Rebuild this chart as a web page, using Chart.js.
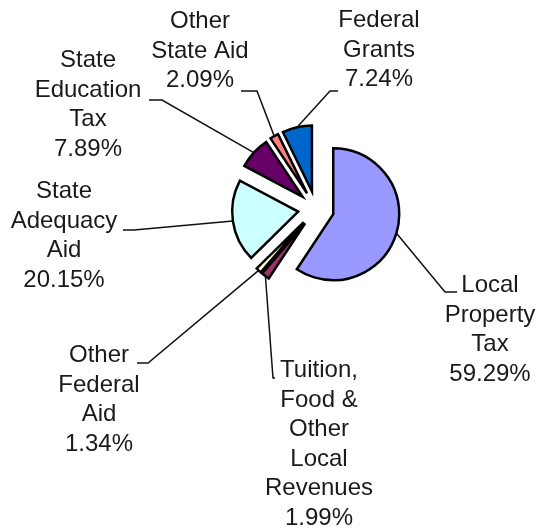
<!DOCTYPE html>
<html>
<head>
<meta charset="utf-8">
<script src="https://cdn.jsdelivr.net/npm/chart.js@4.4.1/dist/chart.umd.min.js"></script>
<style>
  html, body { margin: 0; padding: 0; background: #fff; }
  canvas { display: block; }
</style>
</head>
<body>
<canvas id="revenue-pie" width="540" height="532"></canvas>
<script>
// slice data, clockwise from 12 o'clock
const categories = [
    'Local Property Tax',
    'Tuition, Food & Other Local Revenues',
    'Other Federal Aid',
    'State Adequacy Aid',
    'State Education Tax',
    'Other State Aid',
    'Federal Grants'
];
const categoryLines = [
    ['Local', 'Property', 'Tax'],
    ['Tuition,', 'Food &', 'Other', 'Local', 'Revenues'],
    ['Other', 'Federal', 'Aid'],
    ['State', 'Adequacy', 'Aid'],
    ['State', 'Education', 'Tax'],
    ['Other', 'State Aid'],
    ['Federal', 'Grants']
];
const percentages = [59.29, 1.99, 1.34, 20.15, 7.89, 2.09, 7.24];
const sliceColors = ['#9999FF', '#993366', '#FFFFCC', '#CCFFFF', '#660066', '#FF8080', '#0066CC'];

// label placement (centre x, first baseline) and leader line elbows
const labelPos = [
    { x: 490, y: 292 },
    { x: 319, y: 377 },
    { x: 99, y: 362 },
    { x: 64, y: 198 },
    { x: 88, y: 67 },
    { x: 200, y: 28 },
    { x: 379, y: 27 }
];
const leaderElbows = [
    [[457, 292], [445, 292]],
    [[275, 378], [273, 378]],
    [[137, 363], [148, 363]],
    [[123, 230], [134, 230]],
    [[149, 100], [162, 100]],
    [[241, 91], [257, 91]],
    [[338, 91], [330, 91]]
];

const EXPLODE = 18;
const LINE_H = 29.5;

// pull every slice out from the centre along its middle angle
const explodePlugin = {
    id: 'explode',
    beforeDatasetsDraw(chart) {
        chart.getDatasetMeta(0).data.forEach(arc => {
            const mid = (arc.startAngle + arc.endAngle) / 2;
            arc._ox = arc.x;
            arc._oy = arc.y;
            arc.x += Math.cos(mid) * EXPLODE;
            arc.y += Math.sin(mid) * EXPLODE;
        });
    },
    afterDatasetsDraw(chart) {
        chart.getDatasetMeta(0).data.forEach(arc => {
            arc.x = arc._ox;
            arc.y = arc._oy;
        });
    }
};

const labelPlugin = {
    id: 'pieLabels',
    afterDraw(chart) {
        const ctx = chart.ctx;
        const arcs = chart.getDatasetMeta(0).data;
        ctx.save();
        ctx.strokeStyle = '#111';
        ctx.lineWidth = 1.5;
        arcs.forEach((arc, i) => {
            const mid = (arc.startAngle + arc.endAngle) / 2;
            const cx = arc.x + Math.cos(mid) * EXPLODE;
            const cy = arc.y + Math.sin(mid) * EXPLODE;
            const ax = cx + Math.cos(mid) * arc.outerRadius;
            const ay = cy + Math.sin(mid) * arc.outerRadius;
            const e = leaderElbows[i];
            ctx.beginPath();
            ctx.moveTo(e[0][0], e[0][1]);
            ctx.lineTo(e[1][0], e[1][1]);
            ctx.lineTo(ax, ay);
            ctx.stroke();
        });

        ctx.fillStyle = '#1a1a1a';
        ctx.font = '24px "Liberation Sans", Arial, sans-serif';
        ctx.textAlign = 'center';
        ctx.textBaseline = 'alphabetic';
        categoryLines.forEach((lines, i) => {
            const all = lines.concat([percentages[i].toFixed(2) + '%']);
            all.forEach((t, j) => {
                ctx.fillText(t, labelPos[i].x, labelPos[i].y + j * LINE_H);
            });
        });
        ctx.restore();
    }
};

const ctxPie = document.getElementById('revenue-pie').getContext('2d');
const revenuePie = new Chart(ctxPie, {
    type: 'pie',
    data: {
        labels: categories,
        datasets: [{
            data: percentages,
            backgroundColor: sliceColors,
            borderColor: '#000',
            borderWidth: 2.5,
            borderJoinStyle: 'miter'
        }]
    },
    options: {
        responsive: false,
        animation: false,
        radius: 66,
        layout: {
            padding: { left: 92, right: 0, top: 0, bottom: 114 }
        },
        plugins: {
            legend: { display: false },
            tooltip: { enabled: false }
        }
    },
    plugins: [explodePlugin, labelPlugin]
});
</script>
</body>
</html>
